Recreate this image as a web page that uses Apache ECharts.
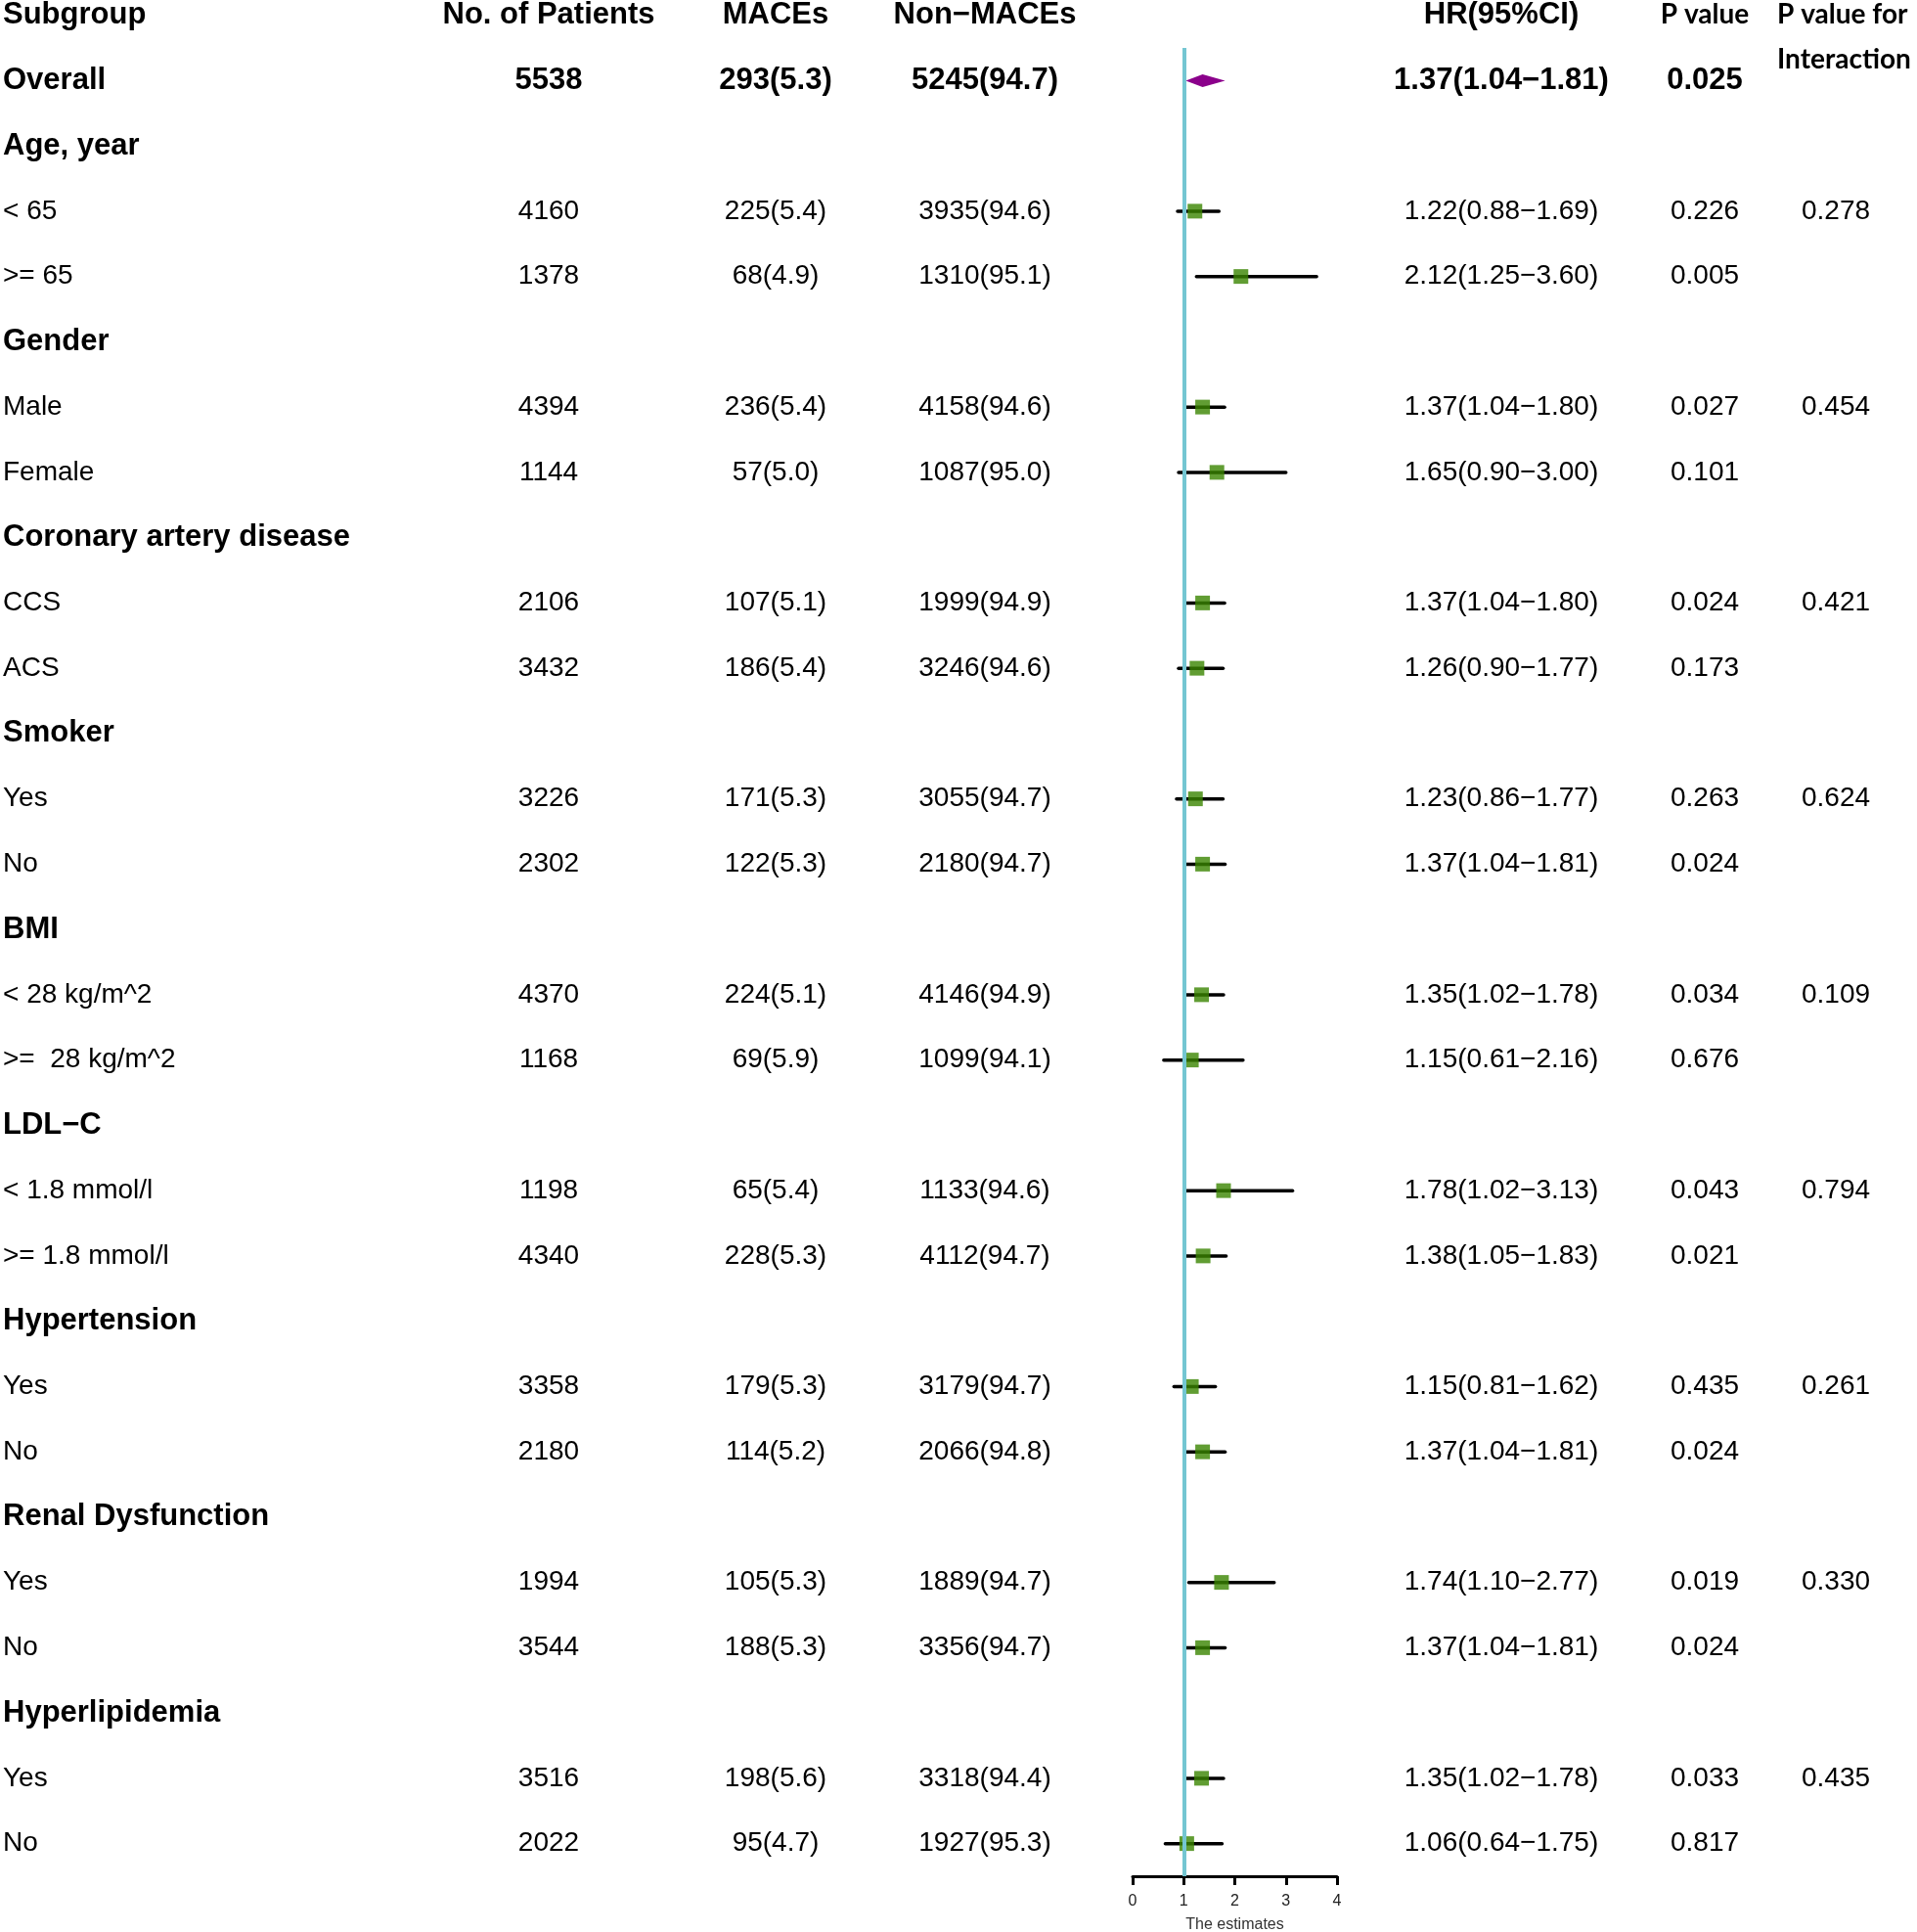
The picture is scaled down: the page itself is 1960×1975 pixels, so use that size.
<!DOCTYPE html>
<html>
<head>
<meta charset="utf-8">
<script src="https://cdn.jsdelivr.net/npm/echarts@6/dist/echarts.min.js"></script>
<style>
html,body{margin:0;padding:0;background:#fff;}
#chart{width:1960px;height:1975px;}
</style>
</head>
<body>
<div id="chart"></div>
<script>
// ---------------- DATA ----------------
const subgroups = ['Overall','Age, year','< 65','>= 65','Gender','Male','Female','Coronary artery disease','CCS','ACS','Smoker','Yes','No','BMI','< 28 kg/m^2','>=  28 kg/m^2','LDL\u2212C','< 1.8 mmol/l','>= 1.8 mmol/l','Hypertension','Yes','No','Renal Dysfunction','Yes','No','Hyperlipidemia','Yes','No'];
const boldRows = [0,1,4,7,10,13,16,19,22,25];
const patients = [5538,null,4160,1378,null,4394,1144,null,2106,3432,null,3226,2302,null,4370,1168,null,1198,4340,null,3358,2180,null,1994,3544,null,3516,2022];
const maces = ['293(5.3)',null,'225(5.4)','68(4.9)',null,'236(5.4)','57(5.0)',null,'107(5.1)','186(5.4)',null,'171(5.3)','122(5.3)',null,'224(5.1)','69(5.9)',null,'65(5.4)','228(5.3)',null,'179(5.3)','114(5.2)',null,'105(5.3)','188(5.3)',null,'198(5.6)','95(4.7)'];
const nonMaces = ['5245(94.7)',null,'3935(94.6)','1310(95.1)',null,'4158(94.6)','1087(95.0)',null,'1999(94.9)','3246(94.6)',null,'3055(94.7)','2180(94.7)',null,'4146(94.9)','1099(94.1)',null,'1133(94.6)','4112(94.7)',null,'3179(94.7)','2066(94.8)',null,'1889(94.7)','3356(94.7)',null,'3318(94.4)','1927(95.3)'];
const hr = [1.37,null,1.22,2.12,null,1.37,1.65,null,1.37,1.26,null,1.23,1.37,null,1.35,1.15,null,1.78,1.38,null,1.15,1.37,null,1.74,1.37,null,1.35,1.06];
const lo = [1.04,null,0.88,1.25,null,1.04,0.90,null,1.04,0.90,null,0.86,1.04,null,1.02,0.61,null,1.02,1.05,null,0.81,1.04,null,1.10,1.04,null,1.02,0.64];
const hi = [1.81,null,1.69,3.60,null,1.80,3.00,null,1.80,1.77,null,1.77,1.81,null,1.78,2.16,null,3.13,1.83,null,1.62,1.81,null,2.77,1.81,null,1.78,1.75];
const pValue = ['0.025',null,'0.226','0.005',null,'0.027','0.101',null,'0.024','0.173',null,'0.263','0.024',null,'0.034','0.676',null,'0.043','0.021',null,'0.435','0.024',null,'0.019','0.024',null,'0.033','0.817'];
const pInteraction = [null,null,'0.278',null,null,'0.454',null,null,'0.421',null,null,'0.624',null,null,'0.109',null,null,'0.794',null,null,'0.261',null,null,'0.330',null,null,'0.435',null];
const headers = ['Subgroup','No. of Patients','MACEs','Non\u2212MACEs','HR(95%CI)','P value','P value for\nInteraction'];
const xTicks = [0,1,2,3,4];
const xAxisName = 'The estimates';

// ---------------- LAYOUT ----------------
const GRID_TOP = 49, GRID_H = 1869;
const FONT = '"Liberation Sans", Arial, sans-serif';
const FONT_P = 'Lato, "Open Sans", sans-serif';
const cols = [
  {x:3, align:'left'},
  {x:561, align:'center'},
  {x:793, align:'center'},
  {x:1007, align:'center'},
  {x:1535, align:'center'},
  {x:1743, align:'center'},
  {x:1877, align:'center'}
];
const hrText = hr.map((v,i)=> v==null?null: v.toFixed(2)+'('+lo[i].toFixed(2)+'\u2212'+hi[i].toFixed(2)+')');
const rowIdx = subgroups.map((_,i)=>String(i));
const tableData = subgroups.map((s,i)=>[0,i]);

const chart = echarts.init(document.getElementById('chart'));
const option = {
  backgroundColor:'#fff',
  animation:false,
  grid:[
    {left:0, width:1960, top:GRID_TOP, height:GRID_H, containLabel:false, outerBoundsMode:'none'},
    {left:1158, width:209, top:GRID_TOP, height:GRID_H, containLabel:false, outerBoundsMode:'none'}
  ],
  xAxis:[
    {gridIndex:0, type:'value', min:0, max:1960, show:false},
    {gridIndex:1, type:'value', min:xTicks[0], max:xTicks[xTicks.length-1], interval:1,
     axisLine:{show:true, onZero:false, lineStyle:{color:'#000', width:3}},
     axisTick:{show:true, length:9, lineStyle:{color:'#000', width:3}},
     axisLabel:{color:'#222', fontSize:16, fontFamily:FONT, margin:18},
     splitLine:{show:false},
     name:xAxisName, nameLocation:'middle', nameGap:42,
     nameTextStyle:{color:'#333', fontSize:16, fontFamily:FONT}}
  ],
  yAxis:[
    {gridIndex:0, type:'category', data:rowIdx, inverse:true, show:false},
    {gridIndex:1, type:'category', data:rowIdx, inverse:true, show:false}
  ],
  graphic: headers.map((h,i)=>{
    const isP = i>=5;
    if (i===6) {
      return {type:'text', left:1817, top:-8, z:10, style:{text:h, font:'bold 28px '+FONT_P, fill:'#000', lineHeight:46}};
    }
    return {type:'text', x:cols[i].x, y:15, z:10,
      style:{text:h, font:'bold '+(isP?'28px '+FONT_P:'31px '+FONT), fill:'#000',
        align:cols[i].align, textAlign:cols[i].align, verticalAlign:'middle', textVerticalAlign:'middle'}};
  }),
  series:[
    {
      type:'custom', xAxisIndex:0, yAxisIndex:0, data:tableData, silent:true, z:5,
      renderItem:function(params, api){
        const i = api.value(1);
        const y = api.coord([0,i])[1];
        const bold = boldRows.indexOf(i)>=0;
        const overall = i===0;
        const vals = [subgroups[i], patients[i]==null?null:String(patients[i]), maces[i], nonMaces[i], hrText[i], pValue[i], pInteraction[i]];
        const children = [];
        vals.forEach((t,c)=>{
          if (t==null) return;
          const b = c===0 ? bold : overall;
          children.push({type:'text', style:{text:t, x:cols[c].x, y:y,
            font:(b?'bold 31px ':'28px ')+FONT, fill:'#000',
            align:cols[c].align, textAlign:cols[c].align, verticalAlign:'middle', textVerticalAlign:'middle'}});
        });
        return {type:'group', children:children};
      }
    },
    {
      type:'line', xAxisIndex:1, yAxisIndex:1, data:[], z:1,
      markLine:{silent:true, symbol:['none','none'], label:{show:false},
        lineStyle:{color:'#74c6d2', width:4, type:'solid'},
        data:[{xAxis:1}]}
    },
    {
      type:'custom', xAxisIndex:1, yAxisIndex:1, z:3, silent:true,
      data: hr.map((v,i)=> (v!=null && i>0) ? [lo[i], hi[i], i] : null).filter(d=>d),
      renderItem:function(params, api){
        const a = api.coord([api.value(0), api.value(2)]);
        const b = api.coord([api.value(1), api.value(2)]);
        return {type:'line', shape:{x1:a[0], y1:a[1], x2:b[0], y2:b[1]},
          style:{stroke:'#000', lineWidth:3.5, lineCap:'round'}};
      }
    },
    {
      type:'scatter', xAxisIndex:1, yAxisIndex:1, z:4, silent:true,
      symbol:'rect', symbolSize:15,
      itemStyle:{color:'#3a8500', borderWidth:0},
      data: hr.map((v,i)=> (v!=null && i>0) ? [v, i] : null).filter(d=>d)
    },
    {
      type:'custom', xAxisIndex:1, yAxisIndex:1, z:4, silent:true,
      data:[[lo[0], hr[0], hi[0], 0]],
      renderItem:function(params, api){
        const l = api.coord([api.value(0), api.value(3)]);
        const m = api.coord([api.value(1), api.value(3)]);
        const r = api.coord([api.value(2), api.value(3)]);
        const h = 6.5;
        return {type:'polygon', shape:{points:[[l[0],l[1]],[m[0],m[1]-h],[r[0],r[1]],[m[0],m[1]+h]]},
          style:{fill:'#8b008b'}};
      }
    }
  ]
};
chart.setOption(option);
</script>
</body>
</html>
